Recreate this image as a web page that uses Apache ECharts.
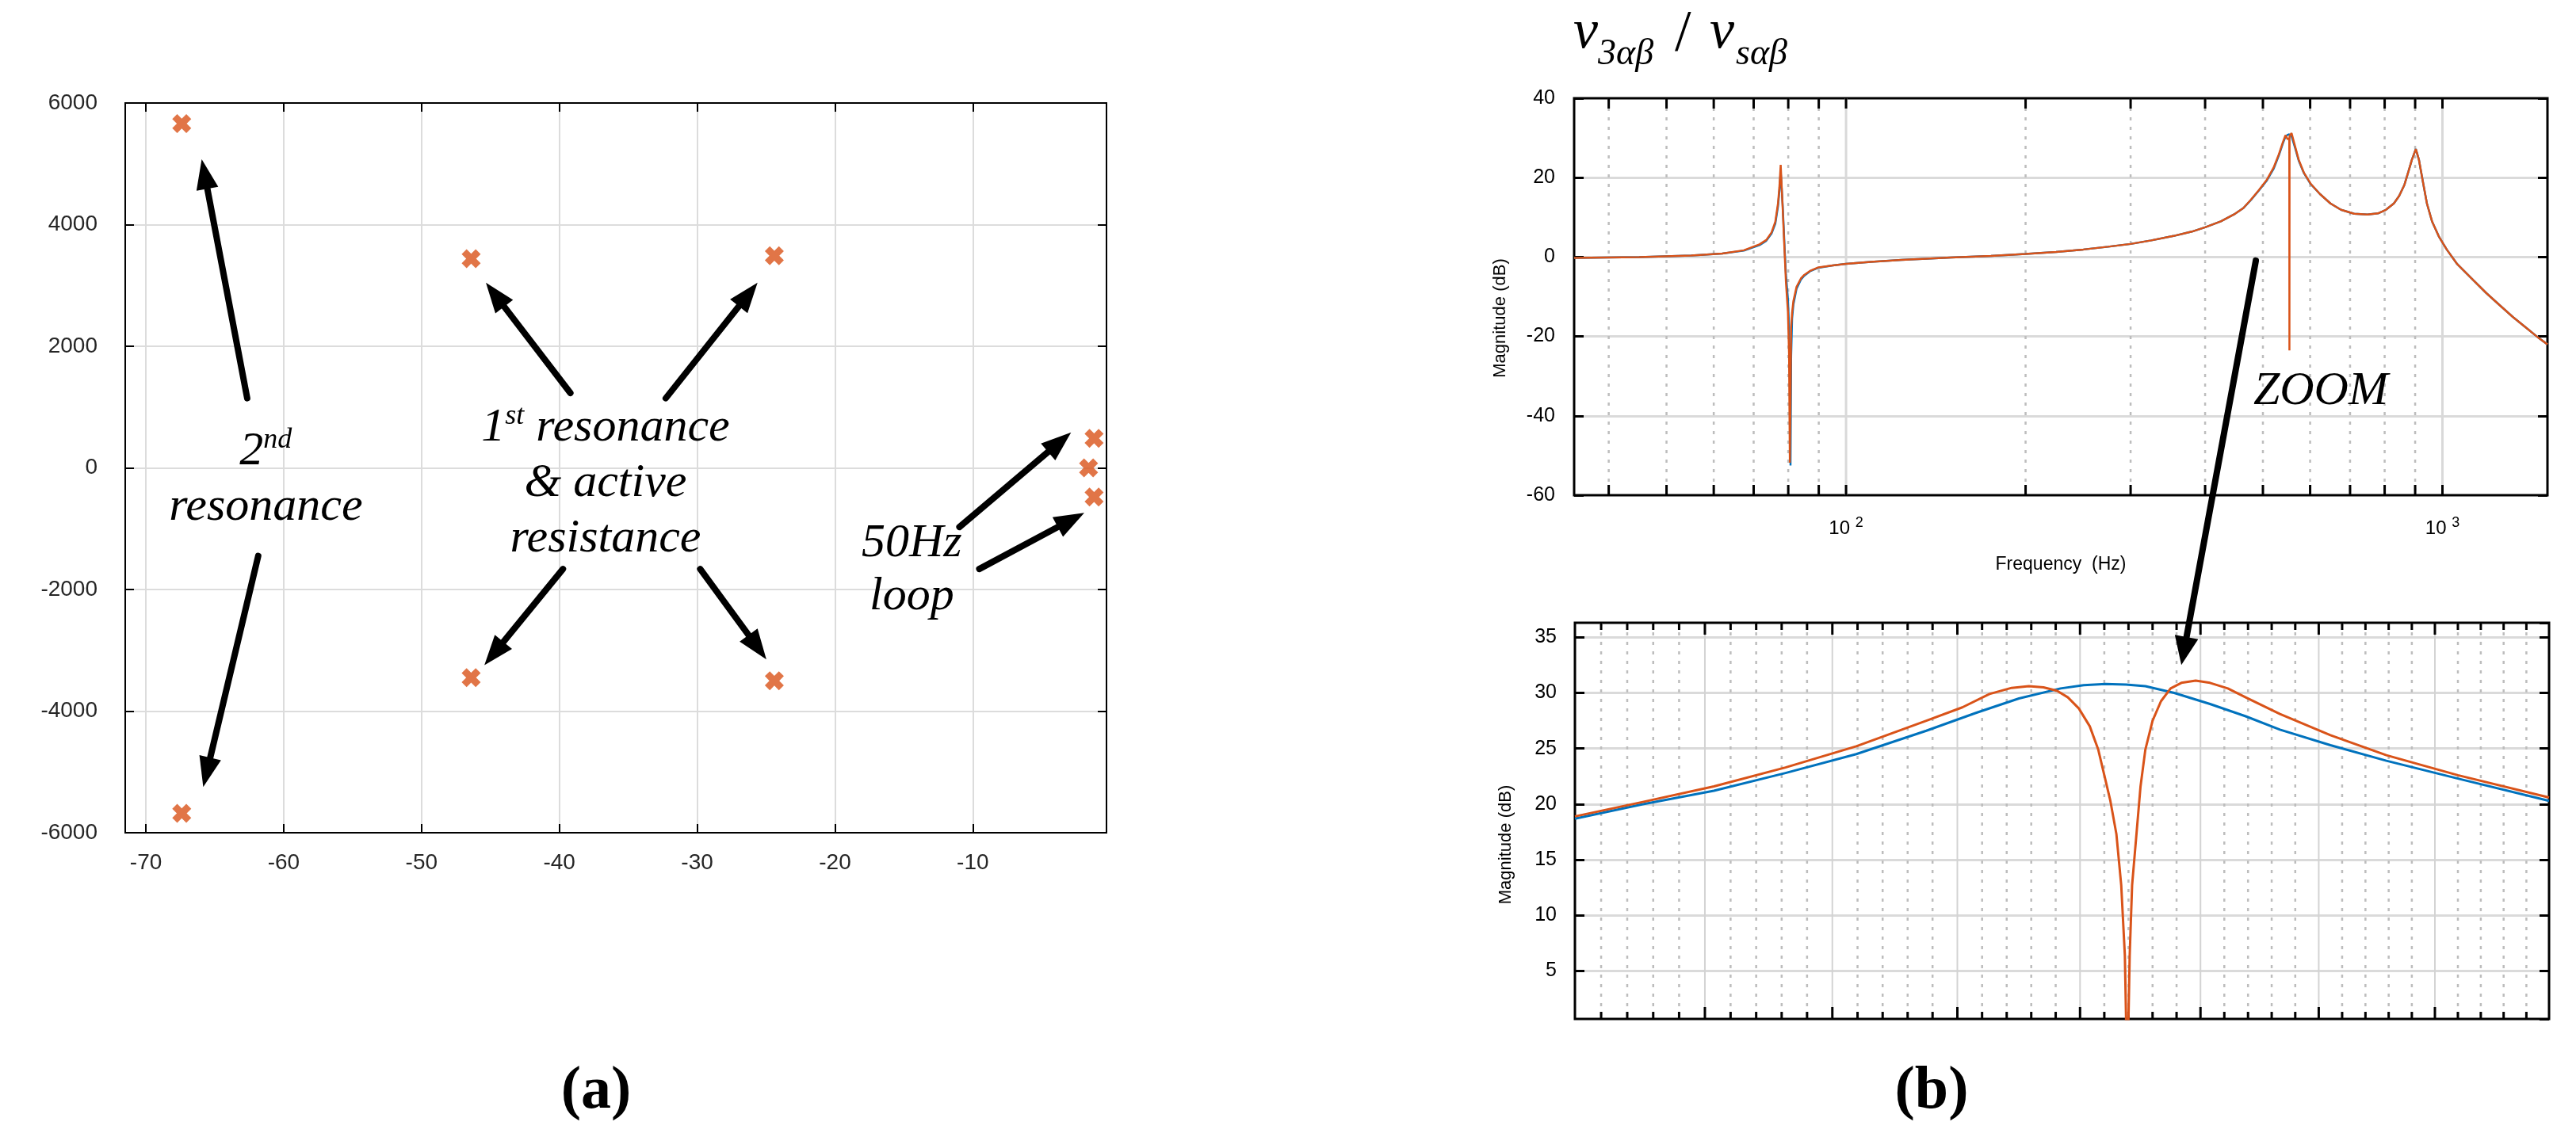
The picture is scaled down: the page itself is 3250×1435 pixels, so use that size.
<!DOCTYPE html>
<html>
<head>
<meta charset="utf-8">
<script src="https://cdn.jsdelivr.net/npm/echarts@6/dist/echarts.min.js"></script>
<style>
  html, body { margin: 0; padding: 0; background: #fff; }
  #chart { width: 3250px; height: 1435px; }
</style>
</head>
<body>
<div id="chart"></div>
<script>
// ---------- (a) pole map ----------
const poleRe = [-67.4, -67.4, -46.4, -46.4, -24.4, -24.4, -1.2, -1.6, -1.2];
const poleIm = [5660, -5680, 3440, -3450, 3490, -3500, 485, 0, -480];

// annotation arrows (tail -> tip), real / imag coordinates
const arrowFrom = [[-62.65, 1145], [-61.85, -1447], [-39.2, 1231], [-32.28, 1145],
                   [-39.74, -1663], [-29.78, -1663], [-10.97, -972], [-9.53, -1663]];
const arrowTo = [[-65.95, 5076], [-65.84, -5248], [-45.33, 3045], [-25.62, 3045],
                 [-45.44, -3244], [-24.98, -3149], [-2.87, 583], [-1.91, -738]];

// annotation text ('^' toggles superscript), anchored at centre / baseline
const noteText = ['2^nd', 'resonance', '1^st^ resonance', '& active', 'resistance', '50Hz', 'loop'];
const noteRe = [-61.3, -61.3, -36.65, -36.65, -36.65, -14.43, -14.43];
const noteIm = [0, -906, 388, -519, -1427, -1512, -2378];

// ---------- (b) top: bode magnitude ----------
const topHz = [35, 45, 55, 62, 67.4, 71.6, 73.5, 75, 76.1, 76.9, 77.3, 77.7, 78.3, 78.9, 79.3,
  79.9, 80.25, 80.5, 80.7, 80.9, 81.2, 81.6, 82.6, 84, 85.1, 87, 89.9, 95, 100, 110, 124, 150,
  175, 200, 225, 250, 275, 300, 325, 354, 380, 400, 425, 449, 463.4, 477.7, 492.5, 507.8, 521,
  531.8, 540, 545.5, 550, 553.6, 553.9, 554.2, 558.5, 565.4, 574.1, 585.9, 601, 622.9, 648.9,
  675.9, 711.2, 748.5, 779.6, 803.9, 829, 846.1, 863.5, 876.8, 888.7, 902.3, 913.3, 927.5,
  941.8, 961, 986, 1016.7, 1059, 1125.8, 1185, 1246.6, 1312.2, 1380.8, 1453, 1500];
const topOrange = [-0.2, 0.0, 0.4, 0.9, 1.7, 3.2, 4.3, 6.2, 8.9, 13.5, 17.5, 23.2, 12.2, 0.9, -6.5,
  -13.8, -24.5, -51.8, -35, -17.8, -14, -11.1, -7.5, -5.4, -4.5, -3.5, -2.6, -2.1, -1.7, -1.2, -0.7, -0.1,
  0.3, 0.8, 1.3, 1.9, 2.6, 3.3, 4.2, 5.3, 6.4, 7.5, 9.0, 10.9, 12.3, 14.5, 16.9, 19.5, 22.5,
  25.9, 28.9, 30.7, 29.7, 29.9, -23.5, 30.5, 31.2, 28.2, 24.5, 21.2, 18.5, 15.9, 13.5,
  11.9, 10.9, 10.7, 11.0, 11.9, 13.5, 15.4, 18.2, 21.5, 24.5, 27.2, 24.5, 18.9,
  13.5, 8.9, 5.2, 1.9, -1.8, -5.8, -9.1, -12.1, -15.1, -17.8, -20.5, -22.0];
const topBlue = [-0.2, 0.0, 0.4, 0.9, 1.6, 3.0, 4.1, 5.9, 8.4, 12.8, 16.5, 21.5, 13.0, 2.0, -4.5,
  -10.5, -17.5, -30, -52.5, -25, -15.5, -12.0, -8.0, -5.7, -4.7, -3.6, -2.7, -2.1, -1.7, -1.2, -0.7, -0.1,
  0.3, 0.8, 1.3, 1.9, 2.6, 3.3, 4.2, 5.3, 6.4, 7.5, 9.0, 10.9, 12.3, 14.4, 16.8, 19.3, 22.2,
  25.6, 28.6, 30.3, 30.8, 30.9, 30.9, 30.9, 30.4, 27.8, 24.3, 21.1, 18.4, 15.9, 13.5,
  11.9, 10.9, 10.7, 11.0, 11.9, 13.5, 15.4, 18.2, 21.5, 24.5, 27.2, 24.5, 18.9,
  13.5, 8.9, 5.2, 1.9, -1.8, -5.8, -9.1, -12.1, -15.1, -17.8, -20.5, -22.0];
const topMajorHz = [100, 1000];
const topMinorHz = [40, 50, 60, 70, 80, 90, 200, 300, 400, 500, 600, 700, 800, 900];

// ---------- (b) bottom: zoom around the resonance ----------
const zoomBlueHz = [500, 505.2, 510.7, 516.3, 521.9, 527.5, 531.5, 535.0, 538.4, 540.3, 542.1,
  543.8, 545.4, 547.8, 550.8, 553.8, 556.7, 561.0, 565.8, 572.0, 580];
const zoomBlueDb = [18.7, 20.0, 21.2, 22.8, 24.5, 26.6, 28.2, 29.5, 30.4, 30.7, 30.8,
  30.75, 30.6, 30.0, 29.0, 27.9, 26.7, 25.3, 23.9, 22.3, 20.3];
const zoomOrangeHz = [500, 505.2, 510.7, 516.3, 521.9, 527.5, 530.4, 532.6, 534.4, 535.8, 537.0,
  538.1, 539.0, 539.9, 540.8, 541.5, 542.0, 542.5, 543.0, 543.4, 543.7, 543.9, 544.1, 544.3,
  544.7, 545.0, 545.4, 546.0, 546.7, 547.5, 548.4, 549.6, 550.8, 552.3, 553.8, 556.7, 561.0,
  565.8, 572.0, 580];
const zoomOrangeDb = [18.9, 20.2, 21.6, 23.3, 25.2, 27.5, 28.7, 29.9, 30.45, 30.6, 30.5,
  30.2, 29.6, 28.6, 27.0, 24.9, 22.6, 20.3, 17.3, 12.7, 6.4, -5, 6.4, 12.7,
  17.8, 21.6, 24.9, 27.5, 29.25, 30.4, 30.9, 31.1, 30.9, 30.4, 29.6, 28.1, 26.2,
  24.4, 22.6, 20.6];
const zoomMajorHz = [510, 520, 530, 540, 550, 560, 570];
const zoomMinorHz = [502, 504, 506, 508, 512, 514, 516, 518, 522, 524, 526, 528, 532, 534, 536, 538,
  542, 544, 546, 548, 552, 554, 556, 558, 562, 564, 566, 568, 572, 574, 576, 578];

const ORANGE = '#D95319';
const BLUE = '#0072BD';
const SANS = '"Liberation Sans", Arial, sans-serif';
const SERIF = '"Liberation Serif", "Times New Roman", serif';
const X_MARK = 'path://M0,2.6 L2.6,0 L5,2.4 L7.4,0 L10,2.6 L7.6,5 L10,7.4 L7.4,10 L5,7.6 L2.6,10 L0,7.4 L2.4,5 Z';

const chart = echarts.init(document.getElementById('chart'));

const pairs = (xs, ys) => xs.map((x, i) => [x, ys[i]]);
const plain = (v) => String(v);

function gridBox(left, top, width, height, bw) {
  return { left, top, width, height, show: true, borderColor: '#000', borderWidth: bw,
    backgroundColor: 'transparent', outerBoundsMode: 'none' };
}

// vertical grid + edge ticks for the log frequency axes
function vGrid(xi, yi, yRef, majorColor, majorWidth, majorTick, minorTick, majors, minors) {
  return {
    type: 'custom', xAxisIndex: xi, yAxisIndex: yi, z: 1, silent: true,
    data: majors.map(f => [f, 1]).concat(minors.map(f => [f, 0])),
    renderItem(params, api) {
      const x = api.coord([api.value(0), yRef])[0];
      const cs = params.coordSys;
      const major = api.value(1) === 1;
      const len = major ? majorTick : minorTick;
      const top = cs.y, bot = cs.y + cs.height;
      return {
        type: 'group',
        children: [
          { type: 'line', shape: { x1: x, y1: top, x2: x, y2: bot },
            style: major ? { stroke: majorColor, lineWidth: majorWidth }
                         : { stroke: '#bdbdbd', lineWidth: 2.5, lineDash: [4, 8] } },
          { type: 'line', shape: { x1: x, y1: top, x2: x, y2: top + len }, style: { stroke: '#000', lineWidth: 3 } },
          { type: 'line', shape: { x1: x, y1: bot, x2: x, y2: bot - len }, style: { stroke: '#000', lineWidth: 3 } }
        ]
      };
    }
  };
}

function yAxisRight(gi, min, max, extra) {
  return Object.assign({
    gridIndex: gi, type: 'value', position: 'right', min, max,
    axisLine: { show: false, onZero: false }, axisLabel: { show: false }, splitLine: { show: false },
    axisTick: { inside: true, length: 12, lineStyle: { color: '#000', width: 3 } }
  }, extra);
}

const option = {
  animation: false,
  backgroundColor: '#fff',
  grid: [
    gridBox(158, 130, 1238, 921, 2),
    gridBox(1986, 124, 1228, 501, 3),
    gridBox(1987, 786, 1229, 500, 3)
  ],
  xAxis: [
    { gridIndex: 0, type: 'value', position: 'bottom', min: -71.5, max: -0.3, splitNumber: 7,
      axisLine: { show: false, onZero: false },
      axisTick: { inside: true, length: 11, lineStyle: { color: '#000', width: 2 } },
      axisLabel: { showMinLabel: false, showMaxLabel: false, margin: 24, fontSize: 28,
        color: '#262626', fontFamily: SANS, formatter: plain },
      splitLine: { showMinLine: false, showMaxLine: false, lineStyle: { color: '#dcdcdc', width: 2 } } },
    { gridIndex: 0, type: 'value', position: 'top', min: -71.5, max: -0.3, splitNumber: 7,
      axisLine: { show: false, onZero: false }, axisLabel: { show: false }, splitLine: { show: false },
      axisTick: { inside: true, length: 11, lineStyle: { color: '#000', width: 2 } } },
    { gridIndex: 1, type: 'log', logBase: 10, min: 35, max: 1500,
      axisLine: { show: false, onZero: false }, axisTick: { show: false }, splitLine: { show: false },
      name: 'Frequency  (Hz)', nameLocation: 'middle', nameGap: 76,
      nameTextStyle: { fontSize: 23, color: '#000', fontFamily: SANS },
      axisLabel: {
        showMinLabel: false, showMaxLabel: false, margin: 26, fontSize: 24, color: '#000',
        fontFamily: SANS,
        formatter: v => {
          const e = Math.log10(v);
          return Math.abs(e - Math.round(e)) < 1e-6 ? '10 {sup|' + Math.round(e) + '}' : '';
        },
        rich: { sup: { fontSize: 18, fontFamily: SANS, color: '#000', padding: [0, 0, 14, 0] } }
      } },
    { gridIndex: 2, type: 'log', logBase: 10, min: 500, max: 580,
      axisLine: { show: false, onZero: false }, axisTick: { show: false }, splitLine: { show: false },
      axisLabel: { show: false } }
  ],
  yAxis: [
    { gridIndex: 0, type: 'value', min: -6000, max: 6000, interval: 2000,
      axisLine: { show: false, onZero: false },
      axisTick: { inside: true, length: 11, lineStyle: { color: '#000', width: 2 } },
      axisLabel: { margin: 35, fontSize: 28, color: '#262626', fontFamily: SANS, formatter: plain },
      splitLine: { showMinLine: false, showMaxLine: false, lineStyle: { color: '#dcdcdc', width: 2 } } },
    yAxisRight(0, -6000, 6000, { interval: 2000,
      axisTick: { inside: true, length: 11, lineStyle: { color: '#000', width: 2 } } }),
    { gridIndex: 1, type: 'value', min: -60, max: 40, interval: 20,
      axisLine: { show: false, onZero: false },
      axisTick: { inside: true, length: 12, lineStyle: { color: '#000', width: 3 } },
      axisLabel: { margin: 24, fontSize: 25, color: '#000', fontFamily: SANS, formatter: plain },
      splitLine: { showMinLine: false, showMaxLine: false, lineStyle: { color: '#dadada', width: 3 } },
      name: 'Magnitude (dB)', nameLocation: 'middle', nameGap: 82,
      nameTextStyle: { fontSize: 22, color: '#000', fontFamily: SANS, padding: [0, 54, 0, 0] } },
    yAxisRight(1, -60, 40, { interval: 20 }),
    { gridIndex: 2, type: 'value', min: 0.7, max: 36.3, splitNumber: 7,
      axisLine: { show: false, onZero: false },
      axisTick: { inside: true, length: 12, lineStyle: { color: '#000', width: 3 } },
      axisLabel: { showMinLabel: false, showMaxLabel: false, margin: 23, fontSize: 25,
        color: '#000', fontFamily: SANS, formatter: plain },
      splitLine: { showMinLine: false, showMaxLine: false, lineStyle: { color: '#dadada', width: 3 } },
      name: 'Magnitude (dB)', nameLocation: 'middle', nameGap: 76,
      nameTextStyle: { fontSize: 22, color: '#000', fontFamily: SANS, padding: [0, 60, 0, 0] } },
    yAxisRight(2, 0.7, 36.3, { splitNumber: 7 })
  ],
  series: [
    { type: 'scatter', xAxisIndex: 0, yAxisIndex: 0, z: 5,
      data: pairs(poleRe, poleIm), symbol: X_MARK, symbolSize: 24,
      itemStyle: { color: ORANGE } },

    vGrid(2, 2, 0, '#d9d9d9', 3, 13, 13, topMajorHz, topMinorHz),
    { type: 'line', xAxisIndex: 2, yAxisIndex: 2, z: 3, showSymbol: false, symbol: 'none',
      data: pairs(topHz, topBlue), lineStyle: { color: BLUE, width: 2.5 } },
    { type: 'line', xAxisIndex: 2, yAxisIndex: 2, z: 4, showSymbol: false, symbol: 'none',
      data: pairs(topHz, topOrange), lineStyle: { color: ORANGE, width: 2.5 } },

    vGrid(3, 4, 10, '#d3d3d3', 2, 15, 9, zoomMajorHz, zoomMinorHz),
    { type: 'line', xAxisIndex: 3, yAxisIndex: 4, z: 3, showSymbol: false, symbol: 'none',
      data: pairs(zoomBlueHz, zoomBlueDb), lineStyle: { color: BLUE, width: 3, join: 'round' } },
    { type: 'line', xAxisIndex: 3, yAxisIndex: 4, z: 4, showSymbol: false, symbol: 'none',
      data: pairs(zoomOrangeHz, zoomOrangeDb), lineStyle: { color: ORANGE, width: 3, join: 'round' } }
  ]
};

chart.setOption(option);

// ---------- annotations (placed through the axes' own scales) ----------
const measure = document.createElement('canvas').getContext('2d');
function textW(str, size, style, weight) {
  measure.font = `${style} ${weight || 'normal'} ${size}px ${SERIF}`;
  return measure.measureText(str).width;
}

function textEl(str, x, baseY, size, style, weight) {
  return {
    type: 'text', x, y: baseY - 0.3375 * size, z: 100, silent: true,
    style: { text: str, fill: '#000', fontSize: size, fontFamily: SERIF,
      fontStyle: style || 'italic', fontWeight: weight || 'normal',
      align: 'left', verticalAlign: 'middle' }
  };
}

// centred run of normal / superscript pieces
function noteRun(markup, cx, baseY) {
  const parts = markup.split('^').map((s, i) => ({ s, sup: i % 2 === 1 }))
    .filter(p => p.s.length);
  const sizes = parts.map(p => (p.sup ? 36 : 60));
  const widths = parts.map((p, i) => textW(p.s, sizes[i], 'italic'));
  let x = cx - widths.reduce((a, b) => a + b, 0) / 2;
  return parts.map((p, i) => {
    const el = textEl(p.s, x, baseY - (p.sup ? 23 : 0), sizes[i], 'italic');
    x += widths[i];
    return el;
  });
}

function arrow(p0, p1, lw, headLen, headW) {
  const dx = p1[0] - p0[0], dy = p1[1] - p0[1];
  const L = Math.hypot(dx, dy);
  const ux = dx / L, uy = dy / L, nx = -uy, ny = ux;
  const bx = p1[0] - ux * headLen, by = p1[1] - uy * headLen;
  return [
    { type: 'line', z: 90, silent: true,
      shape: { x1: p0[0], y1: p0[1], x2: bx + ux * 3, y2: by + uy * 3 },
      style: { stroke: '#000', lineWidth: lw, lineCap: 'round' } },
    { type: 'polygon', z: 90, silent: true,
      shape: { points: [[p1[0], p1[1]], [bx + nx * headW / 2, by + ny * headW / 2],
                        [bx - nx * headW / 2, by - ny * headW / 2]] },
      style: { fill: '#000' } }
  ];
}

const leftAxes = { xAxisIndex: 0, yAxisIndex: 0 };
let graphics = [];

arrowFrom.forEach((from, i) => {
  graphics = graphics.concat(arrow(chart.convertToPixel(leftAxes, from),
    chart.convertToPixel(leftAxes, arrowTo[i]), 8, 38, 28));
});

noteText.forEach((t, i) => {
  const p = chart.convertToPixel(leftAxes, [noteRe[i], noteIm[i]]);
  graphics = graphics.concat(noteRun(t, p[0], p[1]));
});

// ZOOM arrow from the bode plot into the zoomed plot
const zoomFrom = chart.convertToPixel({ xAxisIndex: 2, yAxisIndex: 2 }, [486.5, -0.9]);
const zoomTo = chart.convertToPixel({ xAxisIndex: 3, yAxisIndex: 4 }, [548.4, 32.5]);
graphics = graphics.concat(arrow(zoomFrom, zoomTo, 8, 36, 30));
const zoomLabel = chart.convertToPixel({ xAxisIndex: 2, yAxisIndex: 2 }, [625, -38]);
graphics.push(textEl('ZOOM', zoomLabel[0] - textW('ZOOM', 60, 'italic') / 2, zoomLabel[1], 60, 'italic'));

// title v3αβ / vsαβ
graphics.push(textEl('v', 1985, 65, 70, 'italic'));
graphics.push(textEl('3αβ', 2016, 84, 46, 'italic'));
graphics.push(textEl('/', 2113, 70, 74, 'normal'));
graphics.push(textEl('v', 2157, 65, 70, 'italic'));
graphics.push(textEl('sαβ', 2190, 84, 46, 'italic'));

// panel labels
graphics.push(textEl('(a)', 752 - textW('(a)', 76, 'normal', 'bold') / 2, 1404, 76, 'normal', 'bold'));
graphics.push(textEl('(b)', 2437 - textW('(b)', 76, 'normal', 'bold') / 2, 1404, 76, 'normal', 'bold'));

chart.setOption({ graphic: graphics });
</script>
</body>
</html>
